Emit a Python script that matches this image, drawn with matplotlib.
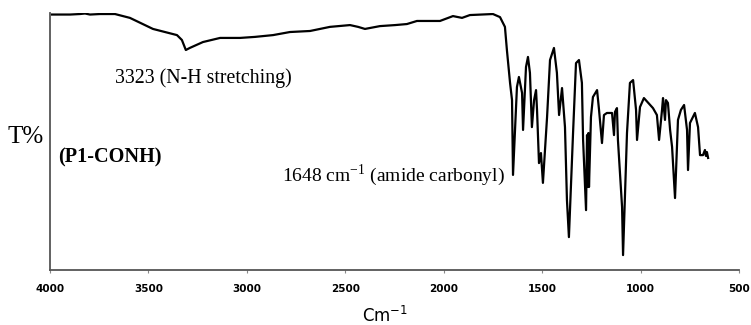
import numpy as np
import matplotlib
matplotlib.use("Agg")
import matplotlib.pyplot as plt

# wavenumber (cm-1) and transmittance (arbitrary %)
wavenumber = [3990, 3898, 3848, 3822, 3797, 3746, 3721, 3670, 3594, 3477,
              3416, 3355, 3330, 3310, 3290, 3223, 3136, 3035, 2959, 2867,
              2781, 2679, 2578, 2476, 2435, 2400, 2324, 2247, 2187, 2136,
              2019, 1953, 1907, 1867, 1750, 1714, 1689, 1679, 1663, 1653,
              1648, 1628, 1618, 1602, 1597, 1582, 1572, 1562, 1552, 1541,
              1531, 1526, 1516, 1506, 1496, 1475, 1460, 1440, 1425, 1414,
              1399, 1384, 1374, 1364, 1343, 1328, 1313, 1298, 1292, 1277,
              1272, 1267, 1265, 1262, 1252, 1242, 1221, 1211, 1196, 1186,
              1171, 1145, 1135, 1130, 1120, 1115, 1094, 1089, 1069, 1054,
              1038, 1023, 1018, 1003, 983, 937, 917, 906, 891, 886,
              876, 871, 861, 850, 840, 825, 810, 795, 779, 764,
              759, 749, 724, 708, 698, 683, 673, 668, 663, 657]
transmittance = [99.4, 99.4, 99.6, 99.8, 99.4, 99.6, 99.6, 99.6, 98.1, 93.8,
                 92.6, 91.4, 89.5, 85.6, 86.4, 88.7, 90.3, 90.3, 90.7, 91.4,
                 92.6, 93.0, 94.6, 95.3, 94.6, 93.8, 94.9, 95.3, 95.7, 96.9,
                 96.9, 98.8, 98.1, 99.2, 99.6, 98.4, 94.6, 85.6, 72.8, 66.1,
                 37.0, 71.2, 75.1, 68.9, 54.5, 79.0, 82.9, 76.7, 55.6, 66.1,
                 70.0, 62.3, 41.6, 45.5, 33.9, 59.5, 81.7, 86.4, 76.7, 60.3,
                 70.8, 55.6, 27.2, 12.8, 53.3, 80.5, 81.7, 72.8, 50.6, 23.3,
                 52.5, 32.3, 53.3, 32.3, 59.5, 67.3, 70.0, 62.3, 49.4, 60.3,
                 61.1, 61.1, 52.5, 61.5, 63.0, 50.6, 24.5, 5.8, 53.3, 72.8,
                 73.9, 62.3, 50.6, 63.4, 66.9, 63.0, 60.3, 50.6, 62.3, 66.9,
                 58.4, 66.1, 65.0, 54.5, 47.9, 28.0, 58.4, 62.3, 64.2, 54.5,
                 38.9, 57.2, 61.1, 55.6, 44.7, 44.7, 46.7, 44.4, 45.9, 43.6]
x_ticks = [4000, 3500, 3000, 2500, 2000, 1500, 1000, 500]

serif = "Liberation Serif"

fig = plt.figure(figsize=(7.51, 3.25), dpi=100)
ax = fig.add_axes([50 / 751, 1 - 270 / 325, 689 / 751, 257 / 325])

ax.plot(wavenumber, transmittance, color="black", lw=1.6)

ax.set_xlim(4000, 500)
ax.set_ylim(0, 100)
ax.set_xticks(x_ticks)
ax.set_xticklabels([str(t) for t in x_ticks], fontsize=7.5, fontweight="bold")
ax.set_yticks([])
ax.tick_params(axis="x", length=2, width=0.8, color="#888888", pad=8)
for s in ["top", "right"]:
    ax.spines[s].set_visible(False)
for s in ["left", "bottom"]:
    ax.spines[s].set_color("#555555")
    ax.spines[s].set_linewidth(1.3)

fig.text(385 / 751, 1 - 316 / 325, r"Cm$^{\mathregular{-1}}$", fontsize=12,
         ha="center", va="center")
fig.text(7 / 751, 1 - 137 / 325, "T%", fontsize=18, family=serif,
         ha="left", va="center")
fig.text(115 / 751, 1 - 78 / 325, "3323 (N-H stretching)", fontsize=14.3,
         family=serif, ha="left", va="center")
fig.text(58 / 751, 1 - 157 / 325, "(P1-CONH)", fontsize=14.6, family=serif,
         fontweight="bold", ha="left", va="center")
fig.text(282 / 751, 1 - 175 / 325, r"1648 cm$^{\mathregular{-1}}$ (amide carbonyl)",
         fontsize=14, family=serif, ha="left", va="center")

fig.savefig("out.png", dpi=100)
